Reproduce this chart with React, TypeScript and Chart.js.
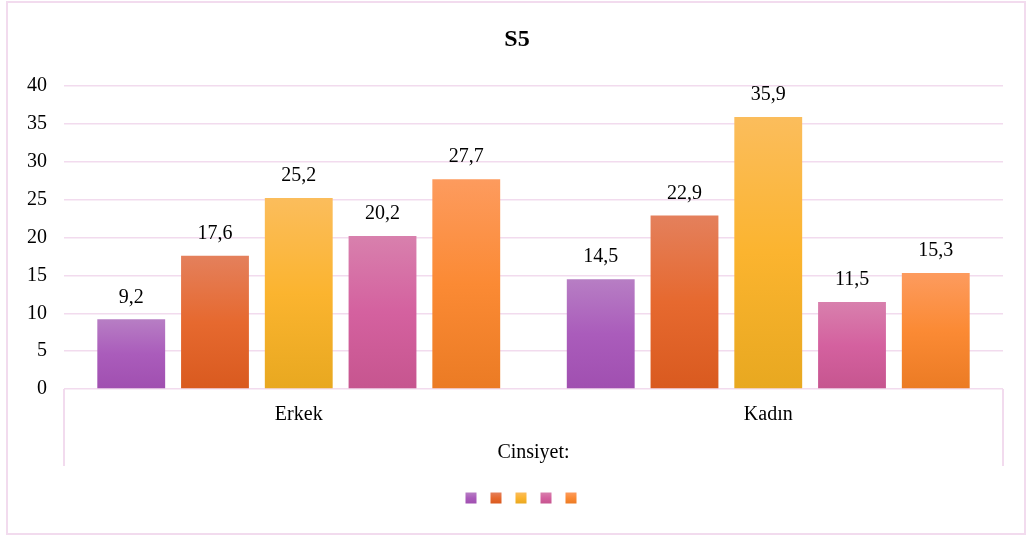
import React, { useEffect, useRef } from "react";
import { Chart, registerables } from "chart.js";

Chart.register(...registerables);

const categories = ["Erkek", "Kadın"];
const seriesLabels = ["Seri 1", "Seri 2", "Seri 3", "Seri 4", "Seri 5"];
const series1 = [9.2, 14.5];
const series2 = [17.6, 22.9];
const series3 = [25.2, 35.9];
const series4 = [20.2, 11.5];
const series5 = [27.7, 15.3];
const yTicks = [0, 5, 10, 15, 20, 25, 30, 35, 40];
const chartTitle = "S5";
const axisTitle = "Cinsiyet:";

const gradients: string[][] = [
  ["#b77ec4", "#aa5cbb", "#a04fb0"],
  ["#e4805c", "#e6692f", "#d95a1f"],
  ["#fbbd5c", "#fbb42f", "#e8a820"],
  ["#d880ad", "#d4619f", "#c6558f"],
  ["#fd9b5e", "#fb8a34", "#eb7b24"],
];

const PINK = "#f2dbee";
const SERIF = "'Liberation Serif', 'Times New Roman', serif";
const FS = 20;

function makeGrad(ctx: CanvasRenderingContext2D, top: number, bottom: number, stops: string[]) {
  const g = ctx.createLinearGradient(0, top, 0, bottom);
  g.addColorStop(0, stops[0]);
  g.addColorStop(0.5, stops[1]);
  g.addColorStop(1, stops[2]);
  return g;
}

export default function App() {
  const ref = useRef<HTMLCanvasElement>(null);
  useEffect(() => {
    document.body.style.margin = "0";
    const canvas = ref.current!;
    const allSeries = [series1, series2, series3, series4, series5];

    const framePlugin = {
      id: "frame",
      beforeDraw(chart: any) {
        const { ctx, chartArea } = chart;
        ctx.save();
        ctx.fillStyle = "#fff";
        ctx.fillRect(0, 0, chart.width, chart.height);
        ctx.strokeStyle = PINK;
        ctx.lineWidth = 2;
        ctx.strokeRect(7, 2, 1018, 532);
        ctx.beginPath();
        ctx.moveTo(chartArea.left, chartArea.bottom);
        ctx.lineTo(chartArea.left, chartArea.bottom + 77);
        ctx.moveTo(chartArea.right, chartArea.bottom);
        ctx.lineTo(chartArea.right, chartArea.bottom + 77);
        ctx.stroke();
        // title
        ctx.fillStyle = "#000";
        ctx.font = `bold 24px ${SERIF}`;
        ctx.textAlign = "center";
        ctx.textBaseline = "middle";
        ctx.fillText(chartTitle, 517, 40);
        ctx.restore();
      },
      afterDatasetsDraw(chart: any) {
        const { ctx } = chart;
        ctx.save();
        ctx.font = `${FS}px ${SERIF}`;
        ctx.fillStyle = "#000";
        ctx.textAlign = "center";
        ctx.textBaseline = "middle";
        chart.data.datasets.forEach((ds: any, di: number) => {
          const meta = chart.getDatasetMeta(di);
          meta.data.forEach((bar: any, i: number) => {
            const v = ds.data[i];
            ctx.fillText(v.toFixed(1).replace(".", ","), bar.x, bar.y - 22);
          });
        });
        // legend squares
        const size = 11;
        const cx0 = 471;
        const cy = 498;
        gradients.forEach((stops, i) => {
          const cx = cx0 + i * 25;
          ctx.fillStyle = makeGrad(ctx, cy - size / 2, cy + size / 2, stops);
          ctx.fillRect(cx - size / 2, cy - size / 2, size, size);
        });
        ctx.restore();
      },
    };

    const chart = new Chart(canvas, {
      type: "bar",
      data: {
        labels: categories,
        datasets: allSeries.map((d, si) => ({
          label: seriesLabels[si],
          data: d,
          backgroundColor: (c: any) => {
            const ch = c.chart;
            const y = ch.scales && ch.scales.y;
            if (!y || c.type !== "data" || !ch.chartArea) return gradients[si][1];
            const top = y.getPixelForValue(c.raw);
            const bottom = y.getPixelForValue(0);
            return makeGrad(ch.ctx, top, bottom, gradients[si]);
          },
          borderWidth: 0,
          barPercentage: 0.81,
          categoryPercentage: 0.892,
        })),
      },
      options: {
        responsive: false,
        animation: false,
        devicePixelRatio: 1,
        layout: { padding: { top: 86, left: 0, right: 24, bottom: 72 } },
        plugins: {
          legend: { display: false },
          tooltip: { enabled: false },
          title: { display: false },
        },
        scales: {
          x: {
            grid: { display: false, drawTicks: false },
            border: { display: false },
            ticks: { color: "#000", font: { family: SERIF, size: FS }, padding: 14 },
            title: {
              display: true,
              text: axisTitle,
              color: "#000",
              font: { family: SERIF, size: FS },
              padding: { top: 0, bottom: 1 },
            },
            afterFit: (s: any) => {
              s.height = 77;
            },
          },
          y: {
            min: 0,
            max: 40,
            afterBuildTicks: (s: any) => {
              s.ticks = yTicks.map((v) => ({ value: v }));
            },
            grid: { color: PINK, lineWidth: 1.5, drawTicks: false },
            border: { display: false },
            ticks: { color: "#000", font: { family: SERIF, size: FS }, padding: 17 },
            afterFit: (s: any) => {
              s.width = 64;
            },
          },
        },
      },
      plugins: [framePlugin],
    } as any);
    return () => chart.destroy();
  }, []);
  return <canvas ref={ref} width={1027} height={538} style={{ display: "block", width: 1027, height: 538 }} />;
}
